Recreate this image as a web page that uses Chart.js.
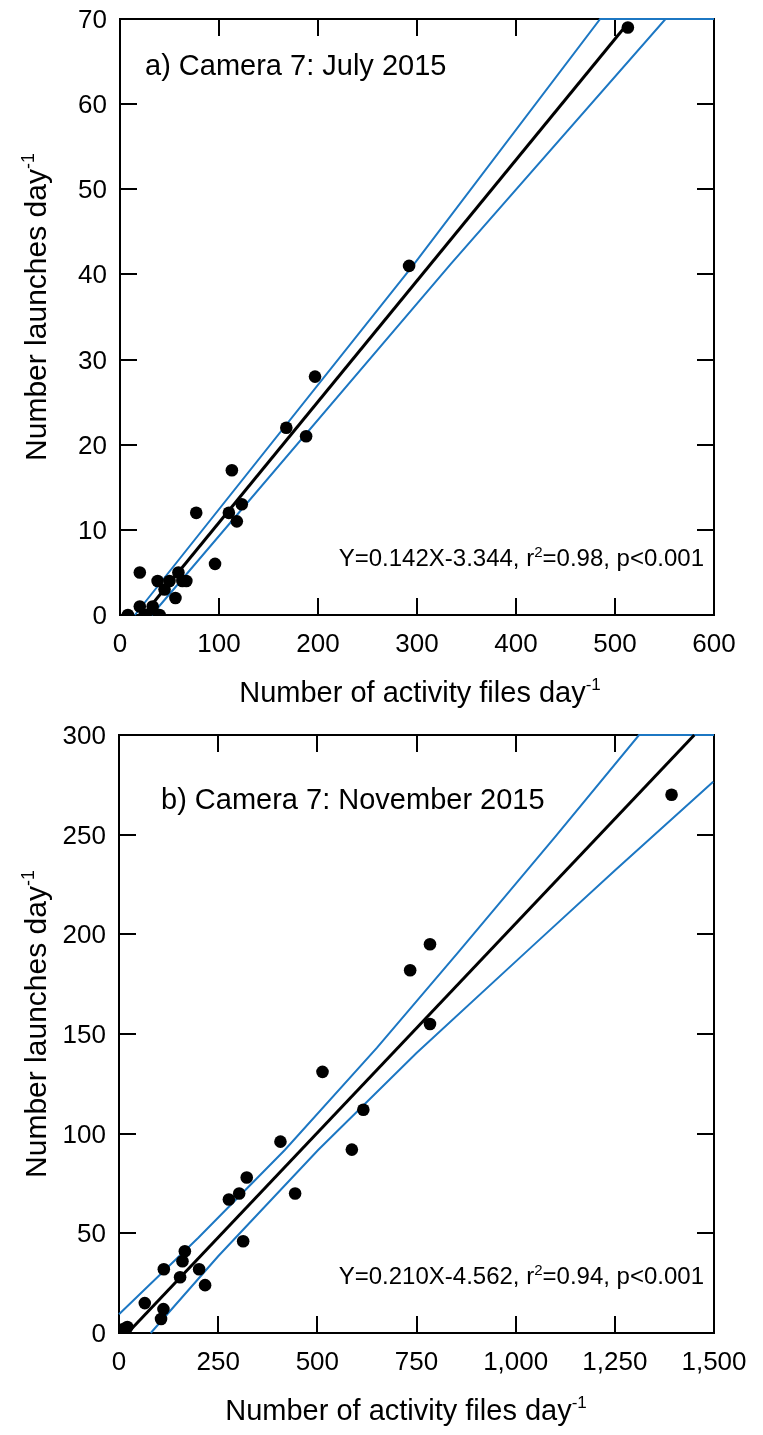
<!DOCTYPE html>
<html>
<head>
<meta charset="utf-8">
<title>Launches vs activity files</title>
<script src="https://cdn.jsdelivr.net/npm/chart.js@4.4.0/dist/chart.umd.min.js"></script>
<style>
  html, body { margin: 0; padding: 0; background: #ffffff; }
  canvas { display: block; }
</style>
</head>
<body>
<canvas id="chartJuly" width="763" height="717"></canvas>
<canvas id="chartNov" width="763" height="718"></canvas>
<script>
const FONT = '"Liberation Sans", Arial, Helvetica, sans-serif';
const BLUE = '#1c77c3';

// ---- a) Camera 7: July 2015 ----
const julyFiles    = [8, 20, 20, 25, 29, 33, 40, 38, 45, 50, 56, 59, 63, 67, 77, 96, 110, 113, 118, 123, 168, 188, 197, 292, 513];
const julyLaunches = [0, 1, 5, 0, 0, 1, 0, 4, 3, 4, 2, 5, 4, 4, 12, 6, 12, 17, 11, 13, 22, 21, 28, 41, 69];
const julySlope = 0.142;
const julyIntercept = -3.344;
const julyUpperX = [15, 297, 485, 600];
const julyUpperY = [0, 41.2, 70, 70];
const julyLowerX = [32, 334, 551, 600];
const julyLowerY = [0, 41.2, 70, 70];
const julyXTicks  = [0, 100, 200, 300, 400, 500, 600];
const julyXLabels = ['0', '100', '200', '300', '400', '500', '600'];
const julyYTicks  = [0, 10, 20, 30, 40, 50, 60, 70];
const julyYLabels = ['0', '10', '20', '30', '40', '50', '60', '70'];

// ---- b) Camera 7: November 2015 ----
const novFiles    = [11, 21, 65, 106, 112, 113, 154, 160, 166, 202, 217, 277, 303, 313, 322, 407, 444, 513, 587, 616, 734, 784, 784, 1393];
const novLaunches = [2, 3, 15, 7, 12, 32, 28, 36, 41, 32, 24, 67, 70, 46, 78, 96, 70, 131, 92, 112, 182, 195, 155, 270];
const novSlope = 0.210;
const novIntercept = -4.562;
const novUpperX = [0, 200, 418, 650, 855, 1100, 1311, 1500];
const novUpperY = [9.4, 47.8, 91.8, 143, 191, 249, 300, 300];
const novLowerX = [80, 250, 502, 750, 1032, 1250, 1498];
const novLowerY = [0, 38.5, 91.8, 140.5, 192.2, 232, 276.6];
const novXTicks  = [0, 250, 500, 750, 1000, 1250, 1500];
const novXLabels = ['0', '250', '500', '750', '1,000', '1,250', '1,500'];
const novYTicks  = [0, 50, 100, 150, 200, 250, 300];
const novYLabels = ['0', '50', '100', '150', '200', '250', '300'];

const toPoints = (xs, ys) => xs.map((x, i) => ({ x, y: ys[i] }));

// Regression segment, kept inside the plotted y range
function fitSegment(slope, intercept, xFrom, xTo, yMin, yMax) {
  const xAt = y => (y - intercept) / slope;
  const a = Math.max(xFrom, xAt(yMin));
  const b = Math.min(xTo, xAt(yMax));
  return [{ x: a, y: slope * a + intercept }, { x: b, y: slope * b + intercept }];
}

// Text with a raised part, e.g. "day" + "-1"
function drawRich(ctx, parts, x, y, align) {
  let total = 0;
  parts.forEach(p => { ctx.font = p.size + 'px ' + FONT; p.w = ctx.measureText(p.t).width; total += p.w; });
  let cx = align === 'center' ? x - total / 2 : align === 'right' ? x - total : x;
  ctx.textAlign = 'left';
  ctx.textBaseline = 'alphabetic';
  parts.forEach(p => {
    ctx.font = p.size + 'px ' + FONT;
    ctx.fillText(p.t, cx, y - (p.rise || 0));
    cx += p.w;
  });
}

const TICK = 17;

function framePlugin(cfg) {
  return {
    id: 'frame',
    beforeDatasetsDraw(chart) {
      const { ctx, chartArea: a } = chart;
      const xs = chart.scales.x, ys = chart.scales.y;
      ctx.save();
      ctx.strokeStyle = '#000';
      ctx.lineWidth = 2;
      ctx.strokeRect(a.left, a.top, a.right - a.left, a.bottom - a.top);
      // inward ticks on all four sides
      ctx.beginPath();
      cfg.xTicks.forEach(v => {
        const px = Math.round(xs.getPixelForValue(v));
        if (px <= a.left + 1 || px >= a.right - 1) return;
        ctx.moveTo(px, a.bottom); ctx.lineTo(px, a.bottom - TICK);
        ctx.moveTo(px, a.top); ctx.lineTo(px, a.top + TICK);
      });
      cfg.yTicks.forEach(v => {
        const py = Math.round(ys.getPixelForValue(v));
        if (py <= a.top + 1 || py >= a.bottom - 1) return;
        ctx.moveTo(a.left, py); ctx.lineTo(a.left + TICK, py);
        ctx.moveTo(a.right, py); ctx.lineTo(a.right - TICK, py);
      });
      ctx.stroke();

      // tick labels
      ctx.fillStyle = '#000';
      ctx.font = '26px ' + FONT;
      ctx.textBaseline = 'alphabetic';
      ctx.textAlign = 'center';
      cfg.xTicks.forEach((v, i) => ctx.fillText(cfg.xLabels[i], xs.getPixelForValue(v), a.bottom + 37));
      ctx.textAlign = 'right';
      cfg.yTicks.forEach((v, i) => ctx.fillText(cfg.yLabels[i], a.left - 13, ys.getPixelForValue(v) + 9));

      // axis titles
      drawRich(ctx, [{ t: 'Number of activity files day', size: 29 }, { t: '-1', size: 17, rise: 12 }],
        cfg.xTitleX, a.bottom + 87, 'center');
      ctx.save();
      ctx.translate(46, (a.top + a.bottom) / 2 - 10);
      ctx.rotate(-Math.PI / 2);
      drawRich(ctx, [{ t: 'Number launches day', size: 30 }, { t: '-1', size: 18, rise: 12 }], 0, 0, 'center');
      ctx.restore();

      // panel label and regression statement
      drawRich(ctx, [{ t: cfg.panel, size: 29 }], cfg.panelX, a.top + cfg.panelDy, 'left');
      drawRich(ctx, [
        { t: cfg.eq1, size: 24 }, { t: '2', size: 15, rise: 9 }, { t: cfg.eq2, size: 24 }
      ], a.right - 10, a.bottom - 49, 'right');
      ctx.restore();
    }
  };
}

function buildChart(id, o) {
  const xMax = o.xTicks[o.xTicks.length - 1];
  const yMax = o.yTicks[o.yTicks.length - 1];
  const band = (xs, ys) => ({
    data: toPoints(xs, ys),
    showLine: true, borderColor: BLUE, borderWidth: 2, pointRadius: 0, clip: 3, tension: 0
  });
  return new Chart(document.getElementById(id), {
    type: 'scatter',
    data: {
      datasets: [
        {
          data: toPoints(o.files, o.launches),
          pointRadius: 6.3, pointHoverRadius: 6.3,
          backgroundColor: '#000', borderWidth: 0, showLine: false
        },
        {
          data: fitSegment(o.slope, o.intercept, 0, o.fitTo, 0, yMax),
          showLine: true, borderColor: '#000', borderWidth: 3, pointRadius: 0, clip: 3
        },
        band(o.upX, o.upY),
        band(o.loX, o.loY)
      ]
    },
    options: {
      responsive: false,
      animation: false,
      devicePixelRatio: 1,
      layout: { padding: o.padding },
      plugins: { legend: { display: false }, tooltip: { enabled: false } },
      scales: {
        x: { type: 'linear', min: 0, max: xMax, display: false },
        y: { type: 'linear', min: 0, max: yMax, display: false }
      }
    },
    plugins: [framePlugin(o)]
  });
}

buildChart('chartJuly', {
  files: julyFiles, launches: julyLaunches,
  slope: julySlope, intercept: julyIntercept, fitTo: Math.max(...julyFiles),
  upX: julyUpperX, upY: julyUpperY, loX: julyLowerX, loY: julyLowerY,
  xTicks: julyXTicks, xLabels: julyXLabels, yTicks: julyYTicks, yLabels: julyYLabels,
  padding: { left: 120, right: 49, top: 19, bottom: 102 },
  xTitleX: 420,
  panel: 'a) Camera 7: July 2015', panelX: 145, panelDy: 56,
  eq1: 'Y=0.142X-3.344, r', eq2: '=0.98, p<0.001'
});

buildChart('chartNov', {
  files: novFiles, launches: novLaunches,
  slope: novSlope, intercept: novIntercept, fitTo: 1500,
  upX: novUpperX, upY: novUpperY, loX: novLowerX, loY: novLowerY,
  xTicks: novXTicks, xLabels: novXLabels, yTicks: novYTicks, yLabels: novYLabels,
  padding: { left: 119, right: 49, top: 18, bottom: 102 },
  xTitleX: 406,
  panel: 'b) Camera 7: November 2015', panelX: 161, panelDy: 74,
  eq1: 'Y=0.210X-4.562, r', eq2: '=0.94, p<0.001'
});
</script>
</body>
</html>
